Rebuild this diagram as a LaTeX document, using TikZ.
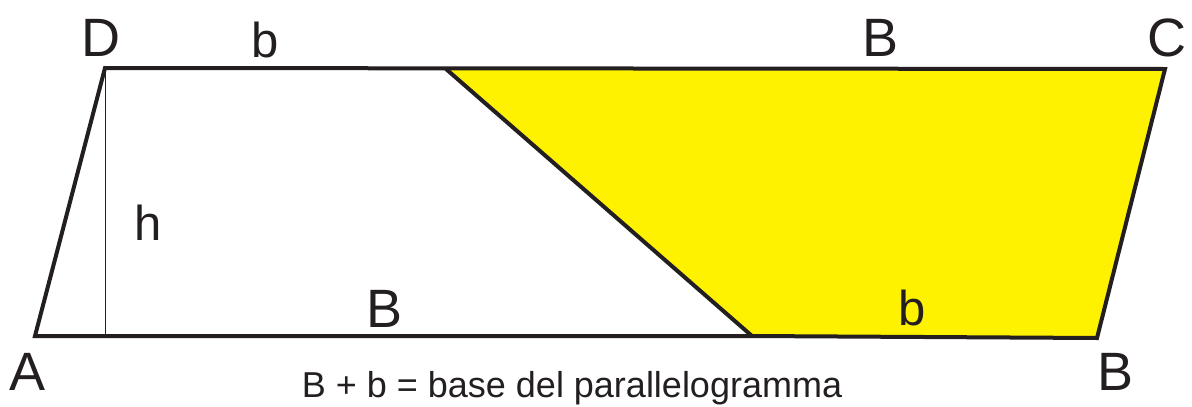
\documentclass[tikz,border=0pt]{standalone}
\usepackage{fontspec}
\setmainfont{Liberation Sans}
\usetikzlibrary{positioning}
\definecolor{giallo}{RGB}{255,242,0}
\definecolor{tratto}{RGB}{35,31,32}
\tikzset{
  lato/.style={draw=tratto, line width=4pt, line join=miter},
  altezza/.style={draw=tratto, line width=1pt},
  vertice/.style={anchor=base, inner sep=0pt, text=tratto,
                  font=\fontsize{54}{60}\selectfont},
  misura/.style={anchor=base, inner sep=0pt, text=tratto,
                 font=\fontsize{49}{56}\selectfont},
  nota/.style={anchor=base, inner sep=0pt, text=tratto,
               font=\fontsize{36}{42}\selectfont}
}

\begin{document}
\begin{tikzpicture}[x=1pt, y=-1pt]
    \useasboundingbox (0,0) rectangle (1192,407);
    % vertici
    \coordinate (A)  at (35,336);
    \coordinate (D)  at (105,68);
    \coordinate (C)  at (1165,69);
    \coordinate (Bd) at (1097,338);
    \coordinate (P)  at (446,69);
    \coordinate (Q)  at (752,336);
    \coordinate (H)  at (105,336);
    % trapezio spostato
    \fill[giallo] (P) -- (C) -- (Bd) -- (Q) -- cycle;
    \draw[altezza] (D) -- (H);
    \draw[lato] (A) -- (Q) -- (Bd) -- (C) -- (D) -- cycle;
    \draw[lato] (P) -- (Q);
    % etichette
    \node[vertice] (lD)  at (101,56)  {D};
    \node[misura]  (lb1) at (265,57)  {b};
    \node[vertice] (lB1) at (880,56)  {B};
    \node[vertice] (lC)  at (1167,56) {C};
    \node[misura]  (lh)  at (148,240) {h};
    \node[vertice] (lB2) at (385,327) {B};
    \node[misura]  (lb2) at (912,325) {b};
    \node[vertice] (lA)  at (28,390)  {A};
    \node[vertice] (lB3) at (1115,390) {B};
    \node[nota]    (somma) at (572,397) {B + b = base del parallelogramma};
\end{tikzpicture}
\end{document}
